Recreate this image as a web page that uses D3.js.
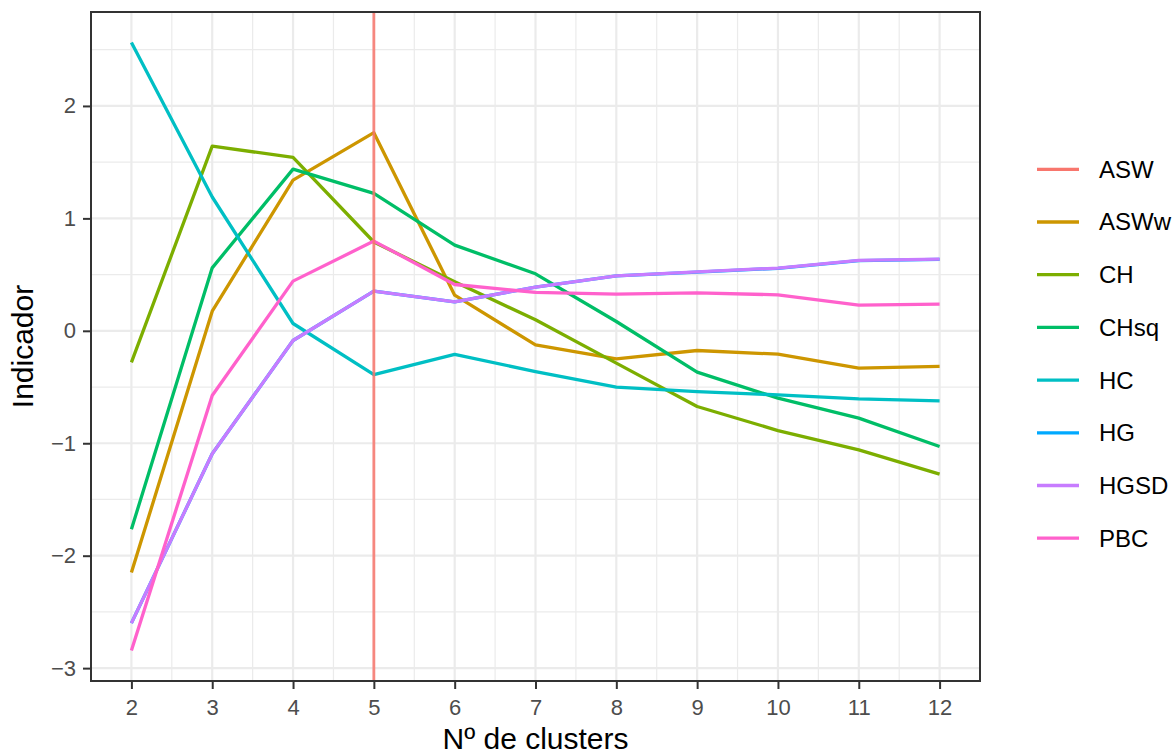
<!DOCTYPE html>
<html>
<head>
<meta charset="utf-8">
<script src="https://cdn.jsdelivr.net/npm/d3@7"></script>
<style>
  html, body { margin: 0; padding: 0; background: #fff; }
  svg { display: block; font-family: "Liberation Sans", Arial, sans-serif; }
</style>
</head>
<body>
<svg id="chart" width="1176" height="754"></svg>
<script>
// ---- data ----
const clusters = [2, 3, 4, 5, 6, 7, 8, 9, 10, 11, 12];
const seriesNames = ["ASW", "ASWw", "CH", "CHsq", "HC", "HG", "HGSD", "PBC"];
const seriesColors = ["#F8766D", "#CD9600", "#7CAE00", "#00BE67", "#00BFC4", "#00A9FF", "#C77CFF", "#FF61CC"];
const aswBest = 5; // ASW shown as a vertical line at k = 5
const ASWw = [-2.15, 0.175, 1.34, 1.762, 0.317, -0.125, -0.249, -0.175, -0.208, -0.332, -0.317];
const CH   = [-0.28, 1.643, 1.542, 0.79, 0.436, 0.098, -0.287, -0.673, -0.887, -1.059, -1.275];
const CHsq = [-1.765, 0.56, 1.438, 1.222, 0.762, 0.507, 0.083, -0.368, -0.599, -0.777, -1.029];
const HC   = [2.565, 1.19, 0.065, -0.39, -0.21, -0.362, -0.50, -0.54, -0.57, -0.605, -0.623];
const HG   = [-2.6, -1.094, -0.086, 0.353, 0.258, 0.389, 0.489, 0.522, 0.556, 0.624, 0.636];
const HGSD = [-2.6, -1.094, -0.086, 0.353, 0.258, 0.389, 0.489, 0.525, 0.558, 0.626, 0.638];
const PBC  = [-2.844, -0.575, 0.442, 0.798, 0.412, 0.341, 0.326, 0.338, 0.32, 0.228, 0.237];
const xTicks = [2, 3, 4, 5, 6, 7, 8, 9, 10, 11, 12];
const yTicks = [-3, -2, -1, 0, 1, 2];
const xTitle = "Nº de clusters";
const yTitle = "Indicador";

const lineSeries = [
  { name: "ASWw", values: ASWw },
  { name: "CH", values: CH },
  { name: "CHsq", values: CHsq },
  { name: "HC", values: HC },
  { name: "HG", values: HG },
  { name: "HGSD", values: HGSD },
  { name: "PBC", values: PBC }
];

// ---- layout ----
const svg = d3.select("#chart");
const P = { left: 91, top: 12, right: 980, bottom: 681 };

const color = d3.scaleOrdinal().domain(seriesNames).range(seriesColors);

const allVals = lineSeries.flatMap(s => s.values);
const yMin = d3.min(allVals), yMax = d3.max(allVals);
const yPad = (yMax - yMin) * 0.05;
const x = d3.scaleLinear().domain([1.5, 12.5]).range([P.left, P.right]);
const y = d3.scaleLinear().domain([yMin - yPad, yMax + yPad]).range([P.bottom, P.top]);

// panel background
svg.append("rect").attr("x", P.left).attr("y", P.top)
  .attr("width", P.right - P.left).attr("height", P.bottom - P.top).attr("fill", "#fff");

const grid = svg.append("g");
// minor grid
const xMinor = d3.range(1.5, 12.6, 1);
const yMinor = d3.range(-3.5, 3, 1).filter(v => y(v) > P.top && y(v) < P.bottom);
grid.selectAll(".xm").data(xMinor).join("line")
  .attr("x1", d => x(d)).attr("x2", d => x(d)).attr("y1", P.top).attr("y2", P.bottom)
  .attr("stroke", "#EBEBEB").attr("stroke-width", 1.2);
grid.selectAll(".ym").data(yMinor).join("line")
  .attr("y1", d => y(d)).attr("y2", d => y(d)).attr("x1", P.left).attr("x2", P.right)
  .attr("stroke", "#EBEBEB").attr("stroke-width", 1.2);
// major grid
grid.selectAll(".xM").data(xTicks).join("line")
  .attr("x1", d => x(d)).attr("x2", d => x(d)).attr("y1", P.top).attr("y2", P.bottom)
  .attr("stroke", "#EBEBEB").attr("stroke-width", 2.2);
grid.selectAll(".yM").data(yTicks).join("line")
  .attr("y1", d => y(d)).attr("y2", d => y(d)).attr("x1", P.left).attr("x2", P.right)
  .attr("stroke", "#EBEBEB").attr("stroke-width", 2.2);

// lines
const line = d3.line().x((d, i) => x(clusters[i])).y(d => y(d));
svg.append("g").selectAll("path").data(lineSeries).join("path")
  .attr("d", d => line(d.values))
  .attr("fill", "none")
  .attr("stroke", d => color(d.name))
  .attr("stroke-width", 3.3)
  .attr("stroke-linejoin", "round");

// ASW vertical line
svg.append("line")
  .attr("x1", x(aswBest)).attr("x2", x(aswBest))
  .attr("y1", P.top).attr("y2", P.bottom)
  .attr("stroke", color("ASW")).attr("stroke-width", 2.8).attr("opacity", 0.85);

// border
svg.append("rect").attr("x", P.left).attr("y", P.top)
  .attr("width", P.right - P.left).attr("height", P.bottom - P.top)
  .attr("fill", "none").attr("stroke", "#333333").attr("stroke-width", 2);

// axes
const xAxis = svg.append("g").attr("transform", `translate(0,${P.bottom})`)
  .call(d3.axisBottom(x).tickValues(xTicks).tickSize(8).tickPadding(10).tickFormat(d3.format("d")));
const yAxis = svg.append("g").attr("transform", `translate(${P.left},0)`)
  .call(d3.axisLeft(y).tickValues(yTicks).tickSize(8).tickPadding(7)
    .tickFormat(d => d < 0 ? "\u2212" + Math.abs(d) : String(d)));
[xAxis, yAxis].forEach(a => {
  a.select(".domain").remove();
  a.selectAll(".tick line").attr("stroke", "#333333").attr("stroke-width", 2);
  a.selectAll(".tick text").attr("fill", "#4D4D4D").style("font-size", "22px")
    .style("font-family", "'Liberation Sans', Arial, sans-serif");
});

// titles
svg.append("text").attr("x", (P.left + P.right) / 2).attr("y", 749)
  .attr("text-anchor", "middle").style("font-size", "30px").attr("fill", "#000").text(xTitle);
svg.append("text").attr("transform", `translate(33,${(P.top + P.bottom) / 2}) rotate(-90)`)
  .attr("text-anchor", "middle").style("font-size", "30px").attr("fill", "#000").text(yTitle);

// legend
const lg = svg.append("g");
const ly0 = 169.3, lstep = 52.7;
seriesNames.forEach((n, i) => {
  const yy = ly0 + i * lstep;
  lg.append("line").attr("x1", 1037).attr("x2", 1079).attr("y1", yy).attr("y2", yy)
    .attr("stroke", color(n)).attr("stroke-width", 3.3);
  lg.append("text").attr("x", 1099).attr("y", yy).attr("dy", "0.35em")
    .style("font-size", "24px").attr("fill", "#000").text(n);
});
</script>
</body>
</html>
